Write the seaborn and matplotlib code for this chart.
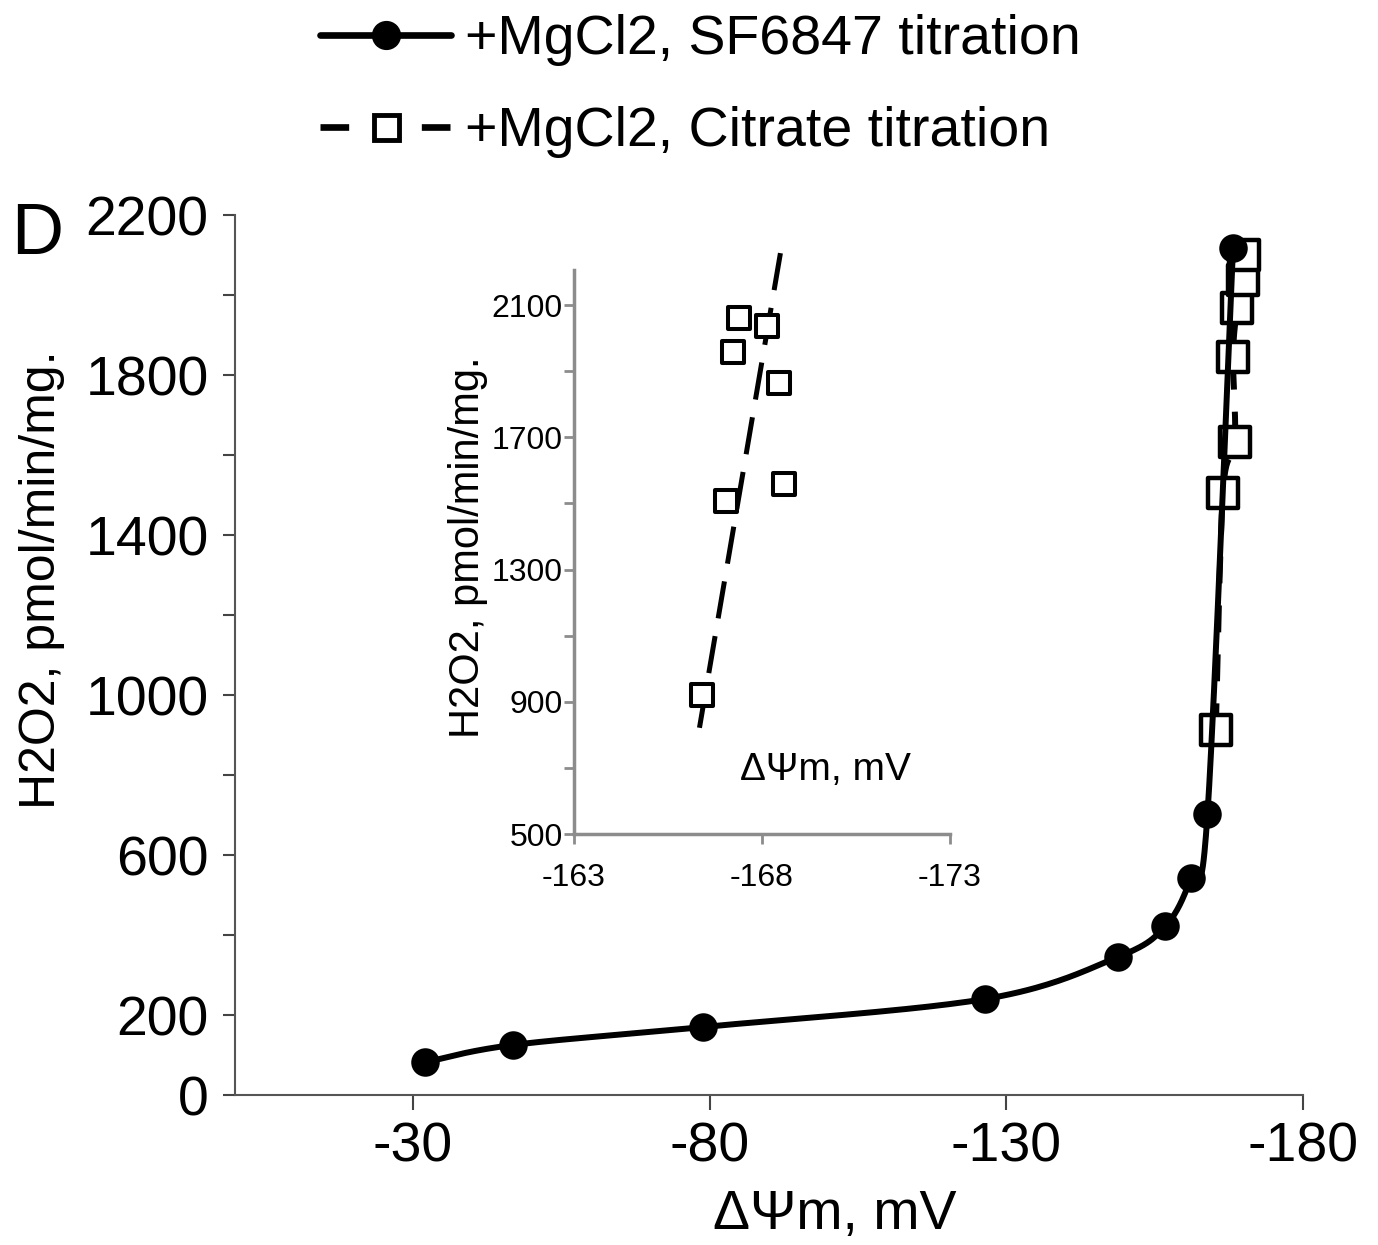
import numpy as np
import pandas as pd
import seaborn as sns
import matplotlib.pyplot as plt
from matplotlib.lines import Line2D

sns.set_style("ticks")
plt.rcParams["font.family"] = ["Liberation Sans", "DejaVu Sans"]
plt.rcParams["axes.unicode_minus"] = False
plt.rcParams["text.color"] = "black"
plt.rcParams["xtick.labelcolor"] = "black"
plt.rcParams["ytick.labelcolor"] = "black"

# SF6847 titration (filled circles)
sf_x = [-32.1, -46.8, -78.9, -126.4, -148.8, -156.8, -161.1, -163.9, -168.2]
sf_y = [82, 125, 170, 240, 345, 422, 542, 702, 2117]

# citrate titration (open squares), main panel
cit_x = [-165.3, -166.5, -168.5, -168.2, -168.9, -169.9, -170.0]
cit_y = [912, 1505, 1632, 1845, 1967, 2037, 2100]

# inset: citrate points and dashed trend line
ins_x = [-166.41, -167.04, -167.22, -167.38, -168.13, -168.44, -168.58]
ins_y = [920, 1506, 1958, 2062, 2037, 1865, 1560]
trend_x = [-166.26, -168.49]
trend_y = [770, 2257]

W, H = 1378, 1245


def fx(px):
    return px / W


def fy(py):
    return 1 - py / H


def smooth(xs, ys, sx, sy, n=40):
    # bezier smoothing (like excel "smoothed line") in screen-ish units
    pts = np.column_stack([np.asarray(xs) / sx, np.asarray(ys) / sy])
    P = np.vstack([pts[0], pts, pts[-1]])
    t = np.linspace(0, 1, n)[:, None]
    out = []
    for i in range(1, len(P) - 2):
        p0, p1, p2, p3 = P[i - 1], P[i], P[i + 1], P[i + 2]
        c1 = p1 + (p2 - p0) / 6
        c2 = p2 - (p3 - p1) / 6
        out.append((1 - t) ** 3 * p1 + 3 * (1 - t) ** 2 * t * c1
                   + 3 * (1 - t) * t ** 2 * c2 + t ** 3 * p2)
    out = np.vstack(out)
    return out[:, 0] * sx, out[:, 1] * sy


fig = plt.figure(figsize=(W / 100, H / 100), dpi=100)
ax = fig.add_axes([fx(235), fy(1095), fx(1303) - fx(235), fy(215) - fy(1095)])

sx, sy = 180 / 1068, 2200 / 880

# citrate series
cx, cy = smooth(cit_x, cit_y, sx, sy)
sns.lineplot(x=cx, y=cy, sort=False, estimator=None, ax=ax, color="black",
             lw=4.3, zorder=2).lines[-1].set_dashes((4.5, 3.7))
sns.scatterplot(x=cit_x, y=cit_y, ax=ax, marker="s", s=21 ** 2, facecolor="white",
                edgecolor="black", linewidth=3.2, zorder=3)

# SF6847 series
px_, py_ = smooth(sf_x, sf_y, sx, sy)
sns.lineplot(x=px_, y=py_, sort=False, estimator=None, ax=ax, color="black",
             lw=4.3, zorder=4)
sns.scatterplot(x=sf_x, y=sf_y, ax=ax, marker="o", s=19 ** 2, color="black",
                edgecolor="black", zorder=5)

ax.set_xlim(0, -180)
ax.set_ylim(0, 2200)
ax.set_xticks([-30, -80, -130, -180])
yt = list(range(0, 2201, 200))
ax.set_yticks(yt)
ax.set_yticklabels([str(v) if v in (0, 200, 600, 1000, 1400, 1800, 2200) else "" for v in yt])
ax.tick_params(axis="both", labelsize=40, width=1.5, color="#444444", direction="out",
               labelcolor="black")
ax.tick_params(axis="y", length=9, pad=10)
ax.tick_params(axis="x", length=11, pad=8)
for s in ["top", "right"]:
    ax.spines[s].set_visible(False)
for s in ["left", "bottom"]:
    ax.spines[s].set_color("#555555")
    ax.spines[s].set_linewidth(1.5)
ax.set_xlabel("")
ax.set_ylabel("")

fig.text(fx(835), fy(1215), "ΔΨm, mV", fontsize=40, ha="center", va="center")
fig.text(fx(42), fy(580), "H2O2, pmol/min/mg.", fontsize=36, ha="center", va="center",
         rotation=90)
fig.text(fx(37), fy(236), "D", fontsize=52, ha="center", va="center")

# inset
ax2 = fig.add_axes([fx(574), fy(834), fx(950) - fx(574), fy(270) - fy(834)])
ax2.patch.set_alpha(0)
ln = sns.lineplot(x=trend_x, y=trend_y, ax=ax2, color="black", lw=3.6, zorder=2)
ln.lines[-1].set_dashes((7.5, 3.6))
ln.lines[-1].set_clip_on(False)
sns.scatterplot(x=ins_x, y=ins_y, ax=ax2, marker="s", s=16 ** 2, facecolor="white",
                edgecolor="black", linewidth=2.9, zorder=3)
ax2.set_xlim(-163, -173)
ax2.set_ylim(500, 2206)
ax2.set_xticks([-163, -168, -173])
yt2 = list(range(500, 2101, 200))
ax2.set_yticks(yt2)
ax2.set_yticklabels([str(v) if (v - 500) % 400 == 0 else "" for v in yt2])
ax2.tick_params(axis="both", labelsize=23, width=2, color="#8c8c8c", direction="out",
                labelcolor="black")
ax2.tick_params(axis="y", length=7, pad=1)
ax2.tick_params(axis="x", length=7, pad=14)
for s in ["top", "right"]:
    ax2.spines[s].set_visible(False)
for s in ["left", "bottom"]:
    ax2.spines[s].set_color("#8c8c8c")
    ax2.spines[s].set_linewidth(2.5)
ax2.set_xlabel("")
ax2.set_ylabel("")
fig.text(fx(825), fy(770), "ΔΨm, mV", fontsize=28, ha="center", va="center")
fig.text(fx(468), fy(547), "H2O2, pmol/min/mg.", fontsize=30, ha="center", va="center",
         rotation=90)

# legend
h1 = Line2D([], [], color="black", lw=4.8, marker="o", markersize=20,
            markerfacecolor="black")
h2 = Line2D([], [], color="black", lw=4.8, marker="s", markersize=18,
            markerfacecolor="white", markeredgewidth=3.5, dashes=(4.3, 10.9))
fig.legend([h1, h2], ["+MgCl2, SF6847 titration", "+MgCl2, Citrate titration"],
           loc="upper left", bbox_to_anchor=(fx(320), fy(14)), frameon=False,
           fontsize=40, handlelength=2.36, handletextpad=0.25, labelspacing=0.72,
           borderpad=0, borderaxespad=0, numpoints=1)

fig.savefig("out.png", dpi=100)
